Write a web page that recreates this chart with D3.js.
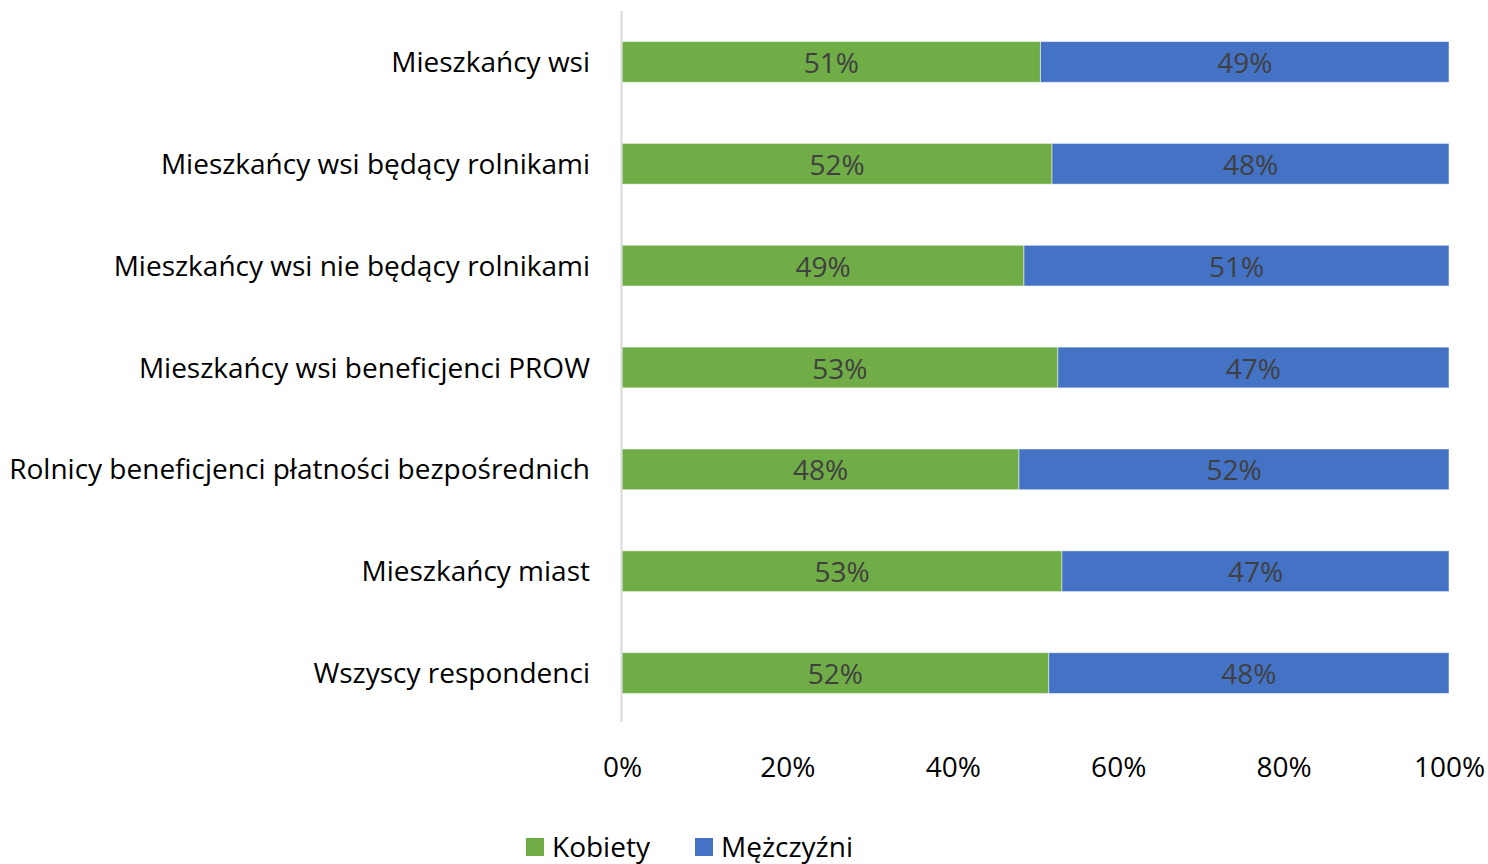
<!DOCTYPE html>
<html>
<head>
<meta charset="utf-8">
<script src="https://cdn.jsdelivr.net/npm/d3@7"></script>
<style>
  body { margin: 0; background: #fff; overflow: hidden; }
  text { font-family: "Open Sans", "Noto Sans", sans-serif; }
</style>
</head>
<body>
<div id="chart"></div>
<script>
// Data
const categories = [
  "Mieszkańcy wsi",
  "Mieszkańcy wsi będący rolnikami",
  "Mieszkańcy wsi nie będący rolnikami",
  "Mieszkańcy wsi beneficjenci PROW",
  "Rolnicy beneficjenci płatności bezpośrednich",
  "Mieszkańcy miast",
  "Wszyscy respondenci"
];
const kobiety = [50.6, 52.0, 48.6, 52.7, 48.0, 53.2, 51.6];
const mezczyzni = [49.4, 48.0, 51.4, 47.3, 52.0, 46.8, 48.4];
const seriesNames = ["Kobiety", "Mężczyźni"];
const seriesColors = ["#70AD47", "#4472C4"];
const tickValues = [0, 20, 40, 60, 80, 100];

const svgWidth = 1488;
const svgHeight = 864;
const margin = { top: 11, right: 39, bottom: 142, left: 622 };
const width = svgWidth - margin.left - margin.right;
const height = svgHeight - margin.top - margin.bottom;
const fontSize = 28;

const svg = d3.select("#chart")
  .append("svg")
  .attr("width", svgWidth)
  .attr("height", svgHeight);

const chartGroup = svg.append("g")
  .attr("transform", `translate(${margin.left}, ${margin.top})`);

const rows = categories.map((c, i) => ({ cat: c, k: kobiety[i], m: mezczyzni[i] }));

const x_Scale = d3.scaleLinear().domain([0, 100]).range([0, width]);
const y_Scale = d3.scaleBand().domain(categories).range([0, height + 2])
  .paddingInner(0.6).paddingOuter(0.3);

// bars
const stack = d3.stack().keys(["k", "m"]);
const layers = stack(rows);

layers.forEach((layer, li) => {
  chartGroup.append("g").selectAll("rect")
    .data(layer)
    .join("rect")
    .attr("x", d => x_Scale(d[0]))
    .attr("y", d => y_Scale(d.data.cat))
    .attr("width", d => x_Scale(d[1]) - x_Scale(d[0]))
    .attr("height", y_Scale.bandwidth())
    .attr("fill", seriesColors[li])
    .attr("stroke", "#ffffff")
    .attr("stroke-opacity", 0.5)
    .attr("stroke-width", 1);

  chartGroup.append("g").selectAll("text")
    .data(layer)
    .join("text")
    .attr("x", d => x_Scale((d[0] + d[1]) / 2))
    .attr("y", d => y_Scale(d.data.cat) + y_Scale.bandwidth() / 2 + 11)
    .attr("text-anchor", "middle")
    .attr("font-size", fontSize)
    .attr("fill", "#404040")
    .text(d => Math.round(d[1] - d[0]) + "%");
});

// vertical axis line
chartGroup.append("line")
  .attr("x1", -0.5).attr("x2", -0.5)
  .attr("y1", 0).attr("y2", height)
  .attr("stroke", "#d9d9d9")
  .attr("stroke-width", 2);

// category labels
chartGroup.append("g").selectAll("text")
  .data(categories)
  .join("text")
  .attr("x", -32)
  .attr("y", d => y_Scale(d) + y_Scale.bandwidth() / 2 + 10)
  .attr("text-anchor", "end")
  .attr("font-size", fontSize)
  .attr("fill", "#000")
  .text(d => d);

// x tick labels
const bottomAxis = d3.axisBottom(x_Scale)
  .tickValues(tickValues)
  .tickFormat(d => d + "%")
  .tickSize(0)
  .tickPadding(0);

const xAxis = chartGroup.append("g")
  .attr("transform", `translate(0, ${height})`)
  .call(bottomAxis);
xAxis.select(".domain").remove();
xAxis.selectAll("text")
  .attr("font-family", "\"Open Sans\", \"Noto Sans\", sans-serif")
  .attr("font-size", fontSize)
  .attr("fill", "#000")
  .attr("dy", 0)
  .attr("y", 55);

// legend
const legend = svg.append("g").attr("transform", "translate(526, 838)");
const legendX = [0, 169];
seriesNames.forEach((name, i) => {
  const g = legend.append("g").attr("transform", `translate(${legendX[i]}, 0)`);
  g.append("rect").attr("width", 18).attr("height", 18).attr("fill", seriesColors[i]);
  g.append("text").attr("x", 26).attr("y", 19).attr("font-size", fontSize).attr("fill", "#000").text(name);
});
</script>
</body>
</html>
